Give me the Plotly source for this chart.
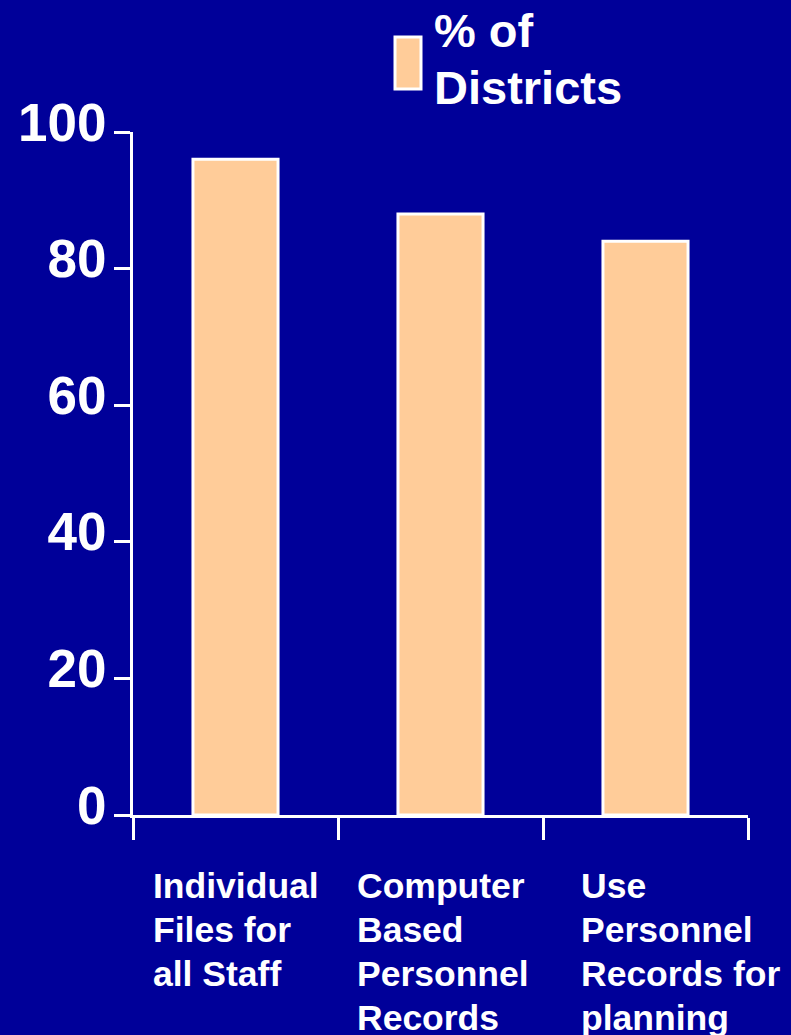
import plotly.graph_objects as go

categories = ["Individual Files for all Staff", "Computer Based Personnel Records", "Use Personnel Records for planning"]
label_lines = [["Individual", "Files for", "all Staff"],
               ["Computer", "Based", "Personnel", "Records"],
               ["Use", "Personnel", "Records for", "planning"]]
values = [96, 88, 84]
series_name = "% of Districts"
series_lines = ["% of", "Districts"]
y_ticks = [0, 20, 40, 60, 80, 100]

BG = "#000099"
BAR = "#FFCC99"
FONT = "Liberation Sans, Arial, sans-serif"

W, H = 791, 1035
L, R, T, B = 133, 43, 132, 220
pw, ph = W - L - R, H - T - B

def px_x(px):
    return (px - L) / pw

def px_y(py):
    return (H - B - py) / ph

fig = go.Figure()
fig.add_trace(go.Bar(
    x=categories, y=values, name=series_name,
    width=0.415,
    marker=dict(color=BAR, line=dict(color="white", width=3)),
    showlegend=False,
))

fig.update_layout(
    width=W, height=H,
    margin=dict(l=L, r=R, t=T, b=B, pad=0),
    paper_bgcolor=BG, plot_bgcolor=BG,
    bargap=0.585,
    xaxis=dict(
        type="category", range=[-0.5, 2.5],
        showline=True, linecolor="white", linewidth=3,
        ticks="outside", tickson="boundaries", ticklen=22, tickwidth=3, tickcolor="white",
        showticklabels=False, showgrid=False, zeroline=False,
    ),
    yaxis=dict(
        range=[0, 100], tickvals=y_ticks,
        showline=True, linecolor="white", linewidth=3,
        ticks="outside", ticklen=16, tickwidth=3, tickcolor="white",
        tickfont=dict(family=FONT, size=53, color="white", weight="bold"),
        ticklabelshift=-10, ticklabelstandoff=-3,
        showgrid=False, zeroline=False,
    ),
)

# category labels, one annotation per line
shifts = [-85, -86, -67]
for cat, lines, xs in zip(categories, label_lines, shifts):
    for i, line in enumerate(lines):
        fig.add_annotation(
            x=cat, xref="x", y=px_y(864 + i * 44), yref="paper",
            text=line, showarrow=False,
            xanchor="left", yanchor="top", align="left", xshift=xs,
            font=dict(family=FONT, size=35.5, color="white", weight="bold"),
        )

# legend
fig.add_shape(type="rect", xref="paper", yref="paper",
              x0=px_x(395), x1=px_x(421), y0=px_y(37), y1=px_y(89),
              fillcolor=BAR, line=dict(color="white", width=3))
for i, line in enumerate(series_lines):
    fig.add_annotation(
        x=px_x(432), xref="paper", y=px_y(2 + i * 57), yref="paper",
        text=line, showarrow=False,
        xanchor="left", yanchor="top", align="left",
        font=dict(family=FONT, size=47, color="white", weight="bold"),
    )

fig.write_html("out.html")
